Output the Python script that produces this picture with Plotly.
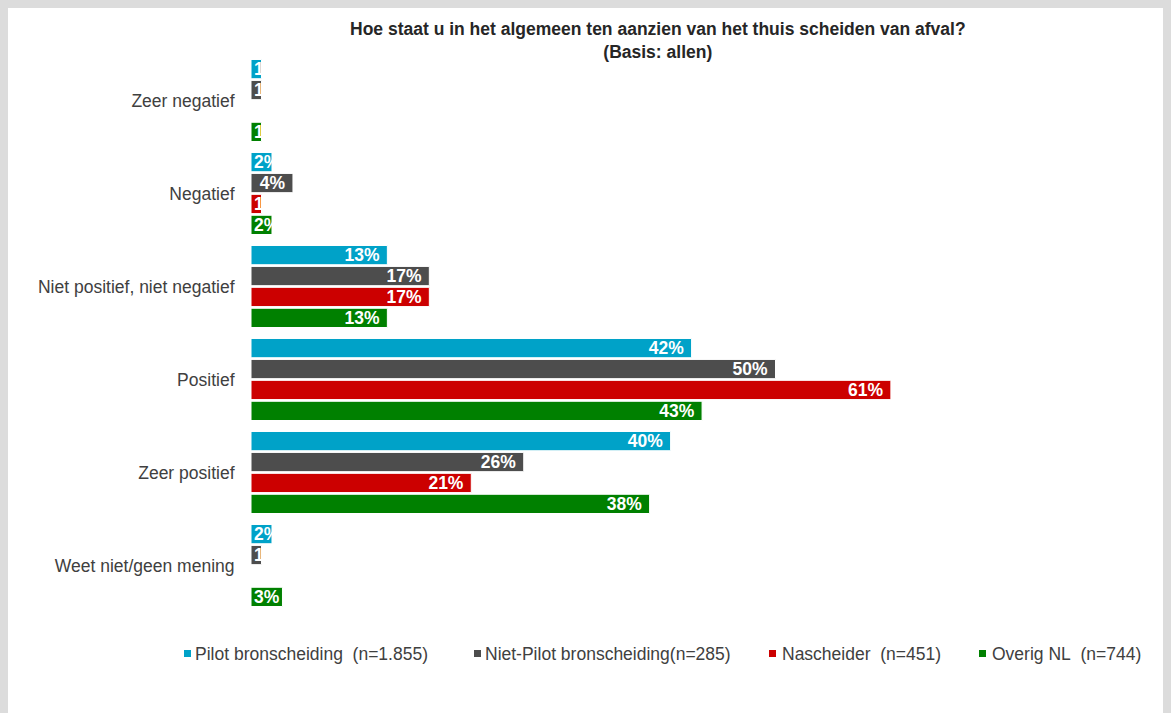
import plotly.graph_objects as go

categories = ["Zeer negatief", "Negatief", "Niet positief, niet negatief", "Positief", "Zeer positief", "Weet niet/geen mening"]
series_names = ["Pilot bronscheiding\u00a0\u00a0(n=1.855)", "Niet-Pilot bronscheiding(n=285)", "Nascheider\u00a0\u00a0(n=451)", "Overig NL\u00a0\u00a0(n=744)"]
pilot = [1, 2, 13, 42, 40, 2]
niet_pilot = [1, 4, 17, 50, 26, 1]
nascheider = [0, 1, 17, 61, 21, 0]
overig = [1, 2, 13, 43, 38, 3]
colors = ["#00A2C8", "#4D4D4D", "#CC0000", "#008000"]
title_text = "<b>Hoe staat u in het algemeen ten aanzien van het thuis scheiden van afval?<br>(Basis: allen)</b>"

# page offset of the figure (browser body margin)
OFF = 8
W, H = 1171 - OFF, 713 - OFF
ML, MR, MT, MB = 251 - OFF, 41, 54 - OFF, 101
pw = W - ML - MR
ph = H - MT - MB
PX_PER_PCT = 10.49
FONT = "Liberation Sans, Arial"
FS = 17.5
SMALL = 4  # labels that do not fit are anchored at the bar start


def px_x(p):
    return (p - OFF - ML) / pw


def px_y(p):
    return 1 - (p - OFF - MT) / ph


fig = go.Figure()
for i, (name, vals, col) in enumerate(zip(series_names, [pilot, niet_pilot, nascheider, overig], colors)):
    big = [v if v >= SMALL else None for v in vals]
    small = [v if 0 < v < SMALL else None for v in vals]
    for part, anchor in ((big, "end"), (small, "start")):
        fig.add_trace(go.Bar(
            y=categories, x=part, name=name, orientation="h",
            offsetgroup=str(i), showlegend=False,
            marker=dict(color=col, line=dict(color="white", width=1)),
            text=[f"{v}%\u00a0" if v else "" for v in part],
            textposition="inside", insidetextanchor=anchor, constraintext="none",
            textangle=0,
            textfont=dict(family=FONT, size=FS, color="white", weight="bold"),
            cliponaxis=True,
        ))

# custom legend (marker squares + labels)
leg_marker_x = [184, 474, 769, 979]
leg_text_x = [193, 483, 780, 990]
leg_y = 653.5
shapes = [
    dict(type="rect", xref="paper", yref="paper", x0=px_x(mx), x1=px_x(mx + 7),
         y0=px_y(leg_y + 3.5), y1=px_y(leg_y - 3.5), fillcolor=col, line=dict(width=0))
    for mx, col in zip(leg_marker_x, colors)
]
annotations = [
    dict(text=name, xref="paper", yref="paper", x=px_x(tx), y=px_y(leg_y), xanchor="left", yanchor="middle",
         showarrow=False, font=dict(family=FONT, size=FS, color="#404040"))
    for tx, name in zip(leg_text_x, series_names)
]
annotations.append(dict(text=title_text, xref="paper", yref="paper", x=px_x(658), y=px_y(40),
                        xanchor="center", yanchor="middle", showarrow=False,
                        font=dict(family=FONT, size=FS, color="#262626")))

fig.update_layout(
    width=W, height=H,
    margin=dict(l=ML, r=MR, t=MT, b=MB),
    paper_bgcolor="white", plot_bgcolor="white",
    barmode="group", bargap=0.1, bargroupgap=0.08,
    font=dict(family=FONT, size=FS, color="#404040"),
    xaxis=dict(range=[0, pw / PX_PER_PCT], showgrid=False, showticklabels=False, zeroline=False, showline=False, ticks=""),
    yaxis=dict(autorange="reversed", showgrid=False, showline=False, ticks="outside", ticklen=12, tickcolor="white",
               tickfont=dict(family=FONT, size=FS, color="#404040")),
    showlegend=False,
    shapes=shapes,
    annotations=annotations,
)
fig.write_html("out.html", post_script="document.body.style.background='#DCDCDC';")
